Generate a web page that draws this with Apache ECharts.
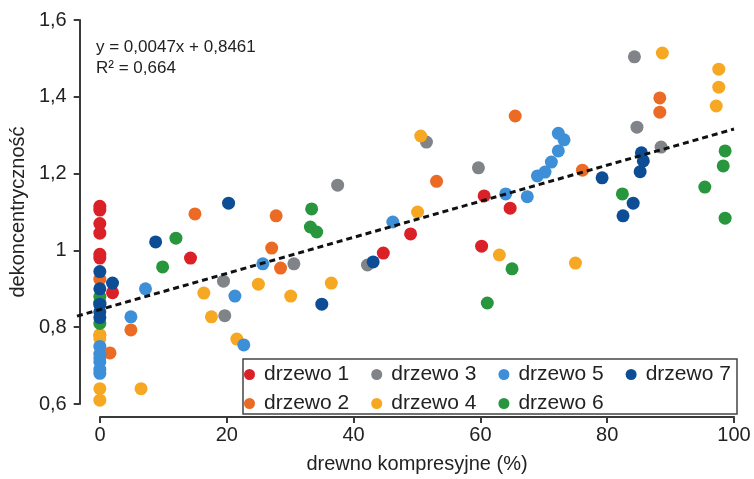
<!DOCTYPE html>
<html>
<head>
<meta charset="utf-8">
<script src="https://cdn.jsdelivr.net/npm/echarts@6/dist/echarts.min.js"></script>
<style>
  html, body { margin: 0; padding: 0; background: #fff; }
  #chart { width: 754px; height: 479px; }
</style>
</head>
<body>
<div id="chart"></div>
<script>
// values (x = drewno kompresyjne %, y = dekoncentryczność)
const drzewo1 = [[0, 1.115], [0, 1.105], [0, 1.07], [0, 1.045], [0, 0.99], [0, 0.98],
  [2.0, 0.89], [14.3, 0.98], [44.7, 0.993], [49, 1.043], [60.6, 1.142], [60.2, 1.011], [64.7, 1.11]];
const drzewo2 = [[0, 0.925], [0, 0.78], [1.6, 0.733], [4.9, 0.793], [15, 1.095], [27.1, 1.006],
  [27.8, 1.09], [28.5, 0.954], [53.1, 1.18], [65.5, 1.35], [76.1, 1.209], [88.3, 1.397], [88.3, 1.36]];
const drzewo3 = [[0, 0.72], [0, 0.86], [19.5, 0.92], [19.7, 0.83], [30.6, 0.965], [37.5, 1.17],
  [42.2, 0.962], [51.5, 1.282], [59.7, 1.215], [84.3, 1.504], [84.7, 1.321], [88.5, 1.269]];
const drzewo4 = [[0, 0.78], [0, 0.77], [0, 0.64], [0, 0.61], [6.5, 0.64], [16.4, 0.889], [17.6, 0.827],
  [21.6, 0.769], [25, 0.912], [30.1, 0.881], [36.5, 0.915], [50.1, 1.1], [50.6, 1.298], [63, 0.988],
  [75, 0.967], [88.7, 1.514], [97.6, 1.472], [97.6, 1.425], [97.2, 1.376]];
const drzewo5 = [[0, 0.75], [0, 0.73], [0, 0.71], [0, 0.69], [0, 0.68], [4.9, 0.827], [7.2, 0.9],
  [21.3, 0.881], [22.7, 0.754], [25.7, 0.965], [46.2, 1.074], [64, 1.147], [67.4, 1.14], [69, 1.194],
  [70.2, 1.204], [71.2, 1.23], [72.3, 1.259], [73.2, 1.288], [72.3, 1.305]];
const drzewo6 = [[0, 0.88], [0, 0.81], [0, 0.865], [9.9, 0.957], [12, 1.032], [33.4, 1.108],
  [33.2, 1.061], [34.2, 1.048], [61.1, 0.863], [65, 0.952], [82.4, 1.147], [95.4, 1.165],
  [98.6, 1.259], [98.3, 1.22], [98.6, 1.084]];
const drzewo7 = [[0, 0.945], [0, 0.9], [0, 0.86], [0, 0.84], [0, 0.825], [2.0, 0.915], [8.8, 1.022],
  [20.3, 1.123], [35, 0.86], [43.1, 0.97], [79.2, 1.189], [84.1, 1.123], [82.5, 1.09],
  [85.4, 1.254], [85.7, 1.233], [85.2, 1.205]];
// trend line endpoints (y = 0,0047x + 0,8461)
const trend = [[-3.6, 0.829], [100, 1.316]];

const seriesNames = ['drzewo 1', 'drzewo 2', 'drzewo 3', 'drzewo 4', 'drzewo 5', 'drzewo 6', 'drzewo 7'];
const seriesData = [drzewo1, drzewo2, drzewo3, drzewo4, drzewo5, drzewo6, drzewo7];
const colors = ['#da2128', '#ec6b24', '#808488', '#f6a823', '#3d8fd8', '#27963c', '#0d4d96'];

const font = "'Liberation Sans', Arial, sans-serif";
const axisColor = '#3a3a3a';

var chart = echarts.init(document.getElementById('chart'));

var series = seriesNames.map(function (name, i) {
  return {
    name: name,
    type: 'scatter',
    xAxisIndex: 0,
    yAxisIndex: 0,
    data: seriesData[i],
    symbolSize: 13,
    itemStyle: { color: colors[i], opacity: 1 },
    z: 2
  };
});
series.push({
  type: 'line',
  xAxisIndex: 0,
  yAxisIndex: 0,
  data: trend,
  symbol: 'none',
  lineStyle: { color: '#111', width: 3, type: [6, 4] },
  z: 5
});

var legendCommon = {
  left: 244,
  padding: 0,
  itemWidth: 11,
  itemHeight: 11,
  itemGap: 22,
  icon: 'circle',
  textStyle: { fontSize: 21, color: '#222', fontFamily: font, padding: [0, 0, 0, 4] }
};

option = {
  animation: false,
  backgroundColor: '#fff',
  textStyle: { fontFamily: font },
  grid: [
    { left: 77, right: 20, top: 20, bottom: 60 },   // data
    { left: 100, right: 20, top: 20, bottom: 60 },  // x axis drawing
    { left: 77, right: 20, top: 20, bottom: 75 }    // y axis drawing
  ],
  xAxis: [
    { gridIndex: 0, type: 'value', min: -3.6, max: 100, show: false },
    {
      gridIndex: 1, type: 'value', min: 0, max: 100, interval: 20,
      name: 'drewno kompresyjne (%)', nameLocation: 'middle', nameGap: 37,
      nameTextStyle: { fontSize: 20, color: '#222', fontFamily: font },
      axisLine: { lineStyle: { color: axisColor, width: 2 } },
      axisTick: { length: 6, lineStyle: { color: axisColor, width: 2 } },
      axisLabel: { fontSize: 20, color: '#222', margin: 8 },
      splitLine: { show: false }
    },
    { gridIndex: 2, type: 'value', show: false }
  ],
  yAxis: [
    { gridIndex: 0, type: 'value', min: 0.561, max: 1.6, show: false },
    { gridIndex: 1, type: 'value', show: false },
    {
      gridIndex: 2, type: 'value', min: 0.6, max: 1.6, interval: 0.2,
      name: 'dekoncentryczność', nameLocation: 'middle', nameGap: 50, nameRotate: 90,
      nameTextStyle: { fontSize: 20, color: '#222', fontFamily: font },
      axisLine: { lineStyle: { color: axisColor, width: 2 } },
      axisTick: { length: 6, lineStyle: { color: axisColor, width: 2 } },
      axisLabel: {
        fontSize: 20, color: '#222', margin: 13,
        formatter: function (v) {
          return Math.abs(v - 1) < 1e-9 ? '1' : v.toFixed(1).replace('.', ',');
        }
      },
      splitLine: { show: false }
    }
  ],
  legend: [
    Object.assign({ top: 364, data: ['drzewo 1', 'drzewo 3', 'drzewo 5', 'drzewo 7'] }, legendCommon),
    Object.assign({ top: 393, data: ['drzewo 2', 'drzewo 4', 'drzewo 6'] }, legendCommon)
  ],
  graphic: [
    {
      type: 'rect',
      shape: { x: 243, y: 359, width: 494, height: 55 },
      style: { fill: 'none', stroke: '#444', lineWidth: 1.5 },
      z: 10
    },
    {
      type: 'text', left: 96, top: 39,
      style: { text: 'y = 0,0047x + 0,8461', fontSize: 17, fill: '#222', fontFamily: font }
    },
    {
      type: 'text', left: 96, top: 60,
      style: { text: 'R² = 0,664', fontSize: 17, fill: '#222', fontFamily: font }
    }
  ],
  series: series
};

chart.setOption(option);
</script>
</body>
</html>
